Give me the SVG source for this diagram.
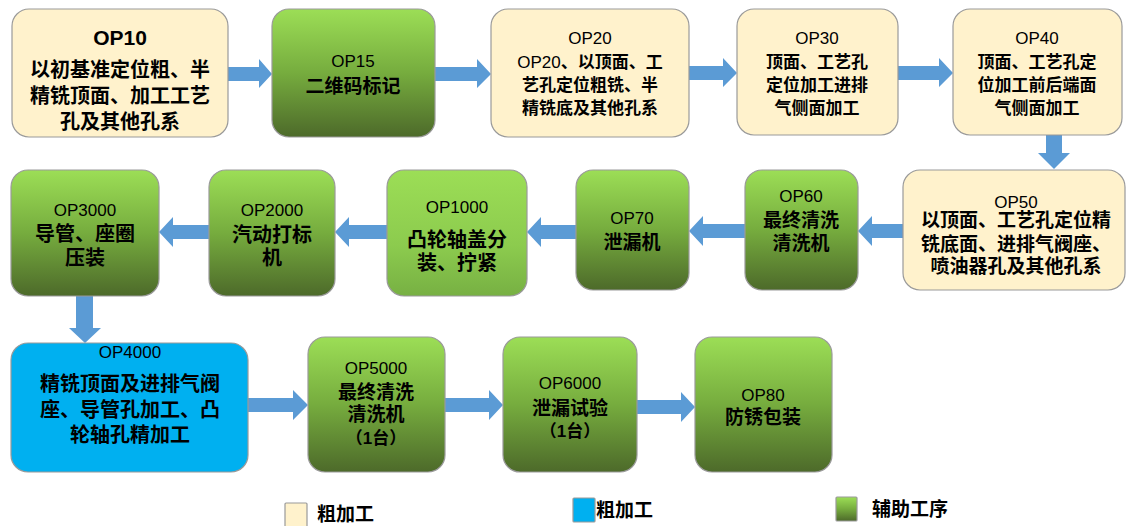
<svg xmlns="http://www.w3.org/2000/svg" width="1126" height="526" viewBox="0 0 1126 526">
<defs>
<linearGradient id="gg" x1="0" y1="0" x2="0" y2="1">
<stop offset="0" stop-color="#9CDE56"/>
<stop offset="0.5" stop-color="#76AC3E"/>
<stop offset="1" stop-color="#4D6A2A"/>
</linearGradient>
<linearGradient id="gl" x1="0" y1="0" x2="0" y2="1">
<stop offset="0" stop-color="#9CDE56"/>
<stop offset="0.6" stop-color="#8CCB4E"/>
<stop offset="1" stop-color="#77B043"/>
</linearGradient>
<style>
.box{stroke:#9A9A9A;stroke-width:1.2}
.cream{fill:#FFF2CC}
.green{fill:url(#gg)}
.lgreen{fill:url(#gl)}
.blue{fill:#00B0F0}
.arr{fill:#5B9BD5}
.op{font-family:"Liberation Sans","Noto Sans",sans-serif;font-size:17px;fill:#000;text-anchor:middle}
.opb{font-family:"Liberation Sans","Noto Sans",sans-serif;font-size:21px;font-weight:bold;fill:#000;text-anchor:middle}
.zh{font-family:"Liberation Sans","Noto Sans CJK SC",sans-serif;font-size:19px;font-weight:bold;fill:#000;text-anchor:middle}
.zh20{font-family:"Liberation Sans","Noto Sans CJK SC",sans-serif;font-size:20px;font-weight:bold;fill:#000;text-anchor:middle}
.zh17{font-family:"Liberation Sans","Noto Sans CJK SC",sans-serif;font-size:17px;font-weight:bold;fill:#000;text-anchor:middle}
.lg{font-family:"Liberation Sans","Noto Sans CJK SC",sans-serif;font-size:19px;font-weight:bold;fill:#000}
.nw{font-weight:normal}
</style>
</defs>

<g id="connectors">
<polygon class="arr" points="228,67 259,67 259,59 272,74 259,88 259,81 228,81"/>
<polygon class="arr" points="435,67 477,67 477,59 491,74 477,88 477,81 435,81"/>
<polygon class="arr" points="689,66 723,66 723,58 737,73 723,87 723,80 689,80"/>
<polygon class="arr" points="898,66 939,66 939,58 953,73 939,87 939,80 898,80"/>
<polygon class="arr" points="1046,135 1062,135 1062,153 1070,153 1054,169 1038,153 1046,153"/>
<polygon class="arr" points="903,224 872,224 872,216 858,231 872,246 872,238 903,238"/>
<polygon class="arr" points="745,224 703,224 703,216 689,231 703,246 703,238 745,238"/>
<polygon class="arr" points="576,225 541,225 541,217 527,232 541,247 541,239 576,239"/>
<polygon class="arr" points="387,225 349,225 349,217 335,232 349,247 349,239 387,239"/>
<polygon class="arr" points="209,225 173,225 173,217 159,232 173,247 173,239 209,239"/>
<polygon class="arr" points="76,296 93,296 93,328 101,328 85,343 69,328 76,328"/>
<polygon class="arr" points="248,398 293,398 293,390 308,405 293,420 293,412 248,412"/>
<polygon class="arr" points="445,398 489,398 489,390 503,405 489,420 489,412 445,412"/>
<polygon class="arr" points="637,400 681,400 681,392 695,407 681,422 681,414 637,414"/>
</g>

<g id="op10">
<rect class="box cream" x="12" y="9" width="216" height="128" rx="17"/>
<text class="opb" x="120" y="45">OP10</text>
<text class="zh20" x="120" y="77">以初基准定位粗、半</text>
<text class="zh20" x="120" y="103">精铣顶面、加工工艺</text>
<text class="zh20" x="120" y="129">孔及其他孔系</text>
</g>

<g id="op15">
<rect class="box green" x="272" y="9" width="163" height="128" rx="17"/>
<text class="op" x="353" y="67">OP15</text>
<text class="zh" x="353" y="93">二维码标记</text>
</g>

<g id="op20">
<rect class="box cream" x="491" y="9" width="198" height="128" rx="17"/>
<text class="op" x="590" y="44">OP20</text>
<text class="zh17" x="590" y="68"><tspan class="nw">OP20</tspan>、以顶面、工</text>
<text class="zh17" x="590" y="91">艺孔定位粗铣、半</text>
<text class="zh17" x="590" y="114">精铣底及其他孔系</text>
</g>

<g id="op30">
<rect class="box cream" x="737" y="9" width="161" height="126" rx="17"/>
<text class="op" x="817" y="44">OP30</text>
<text class="zh17" x="817" y="68">顶面、工艺孔</text>
<text class="zh17" x="817" y="91">定位加工进排</text>
<text class="zh17" x="817" y="114">气侧面加工</text>
</g>

<g id="op40">
<rect class="box cream" x="953" y="9" width="169" height="126" rx="17"/>
<text class="op" x="1037" y="44">OP40</text>
<text class="zh17" x="1037" y="68">顶面、工艺孔定</text>
<text class="zh17" x="1037" y="91">位加工前后端面</text>
<text class="zh17" x="1037" y="114">气侧面加工</text>
</g>

<g id="op50">
<rect class="box cream" x="903" y="170" width="222" height="120" rx="17"/>
<text class="op" x="1016" y="208">OP50</text>
<text class="zh" x="1016" y="227">以顶面、工艺孔定位精</text>
<text class="zh" x="1016" y="251">铣底面、进排气阀座、</text>
<text class="zh" x="1016" y="273">喷油器孔及其他孔系</text>
</g>

<g id="op60">
<rect class="box green" x="745" y="170" width="113" height="120" rx="17"/>
<text class="op" x="801" y="202">OP60</text>
<text class="zh" x="801" y="227">最终清洗</text>
<text class="zh" x="801" y="250">清洗机</text>
</g>

<g id="op70">
<rect class="box green" x="576" y="170" width="113" height="120" rx="17"/>
<text class="op" x="632" y="224">OP70</text>
<text class="zh" x="632" y="249">泄漏机</text>
</g>

<g id="op1000">
<rect class="box lgreen" x="387" y="170" width="140" height="126" rx="17"/>
<text class="op" x="457" y="213">OP1000</text>
<text class="zh20" x="457" y="247">凸轮轴盖分</text>
<text class="zh20" x="457" y="270">装、拧紧</text>
</g>

<g id="op2000">
<rect class="box green" x="209" y="170" width="126" height="126" rx="17"/>
<text class="op" x="272" y="216">OP2000</text>
<text class="zh20" x="272" y="242">汽动打标</text>
<text class="zh20" x="272" y="265">机</text>
</g>

<g id="op3000">
<rect class="box green" x="11" y="170" width="148" height="126" rx="17"/>
<text class="op" x="85" y="216">OP3000</text>
<text class="zh20" x="85" y="241">导管、座圈</text>
<text class="zh20" x="85" y="265">压装</text>
</g>

<g id="op4000">
<rect class="box blue" x="11" y="343" width="237" height="129" rx="17"/>
<text class="op" x="130" y="358">OP4000</text>
<text class="zh20" x="130" y="391">精铣顶面及进排气阀</text>
<text class="zh20" x="130" y="417">座、导管孔加工、凸</text>
<text class="zh20" x="130" y="442">轮轴孔精加工</text>
</g>

<g id="op5000">
<rect class="box green" x="308" y="337" width="137" height="135" rx="17"/>
<text class="op" x="376" y="374">OP5000</text>
<text class="zh" x="376" y="399">最终清洗</text>
<text class="zh" x="376" y="421">清洗机</text>
<text class="zh17" x="376" y="444">（1台）</text>
</g>

<g id="op6000">
<rect class="box green" x="503" y="337" width="134" height="135" rx="17"/>
<text class="op" x="570" y="389">OP6000</text>
<text class="zh" x="570" y="415">泄漏试验</text>
<text class="zh17" x="570" y="437">（1台）</text>
</g>

<g id="op80">
<rect class="box green" x="695" y="337" width="137" height="135" rx="17"/>
<text class="op" x="763" y="401">OP80</text>
<text class="zh" x="763" y="424">防锈包装</text>
</g>

<g id="legend">
<rect class="box cream" x="285" y="503" width="22" height="26" rx="1"/>
<text class="lg" x="317" y="521">粗加工</text>
<rect class="box blue" x="573" y="498" width="22" height="24" rx="1"/>
<text class="lg" x="596" y="517">粗加工</text>
<rect class="box green" x="836" y="497" width="21" height="24" rx="1"/>
<text class="lg" x="872" y="516">辅助工序</text>
</g>
</svg>
